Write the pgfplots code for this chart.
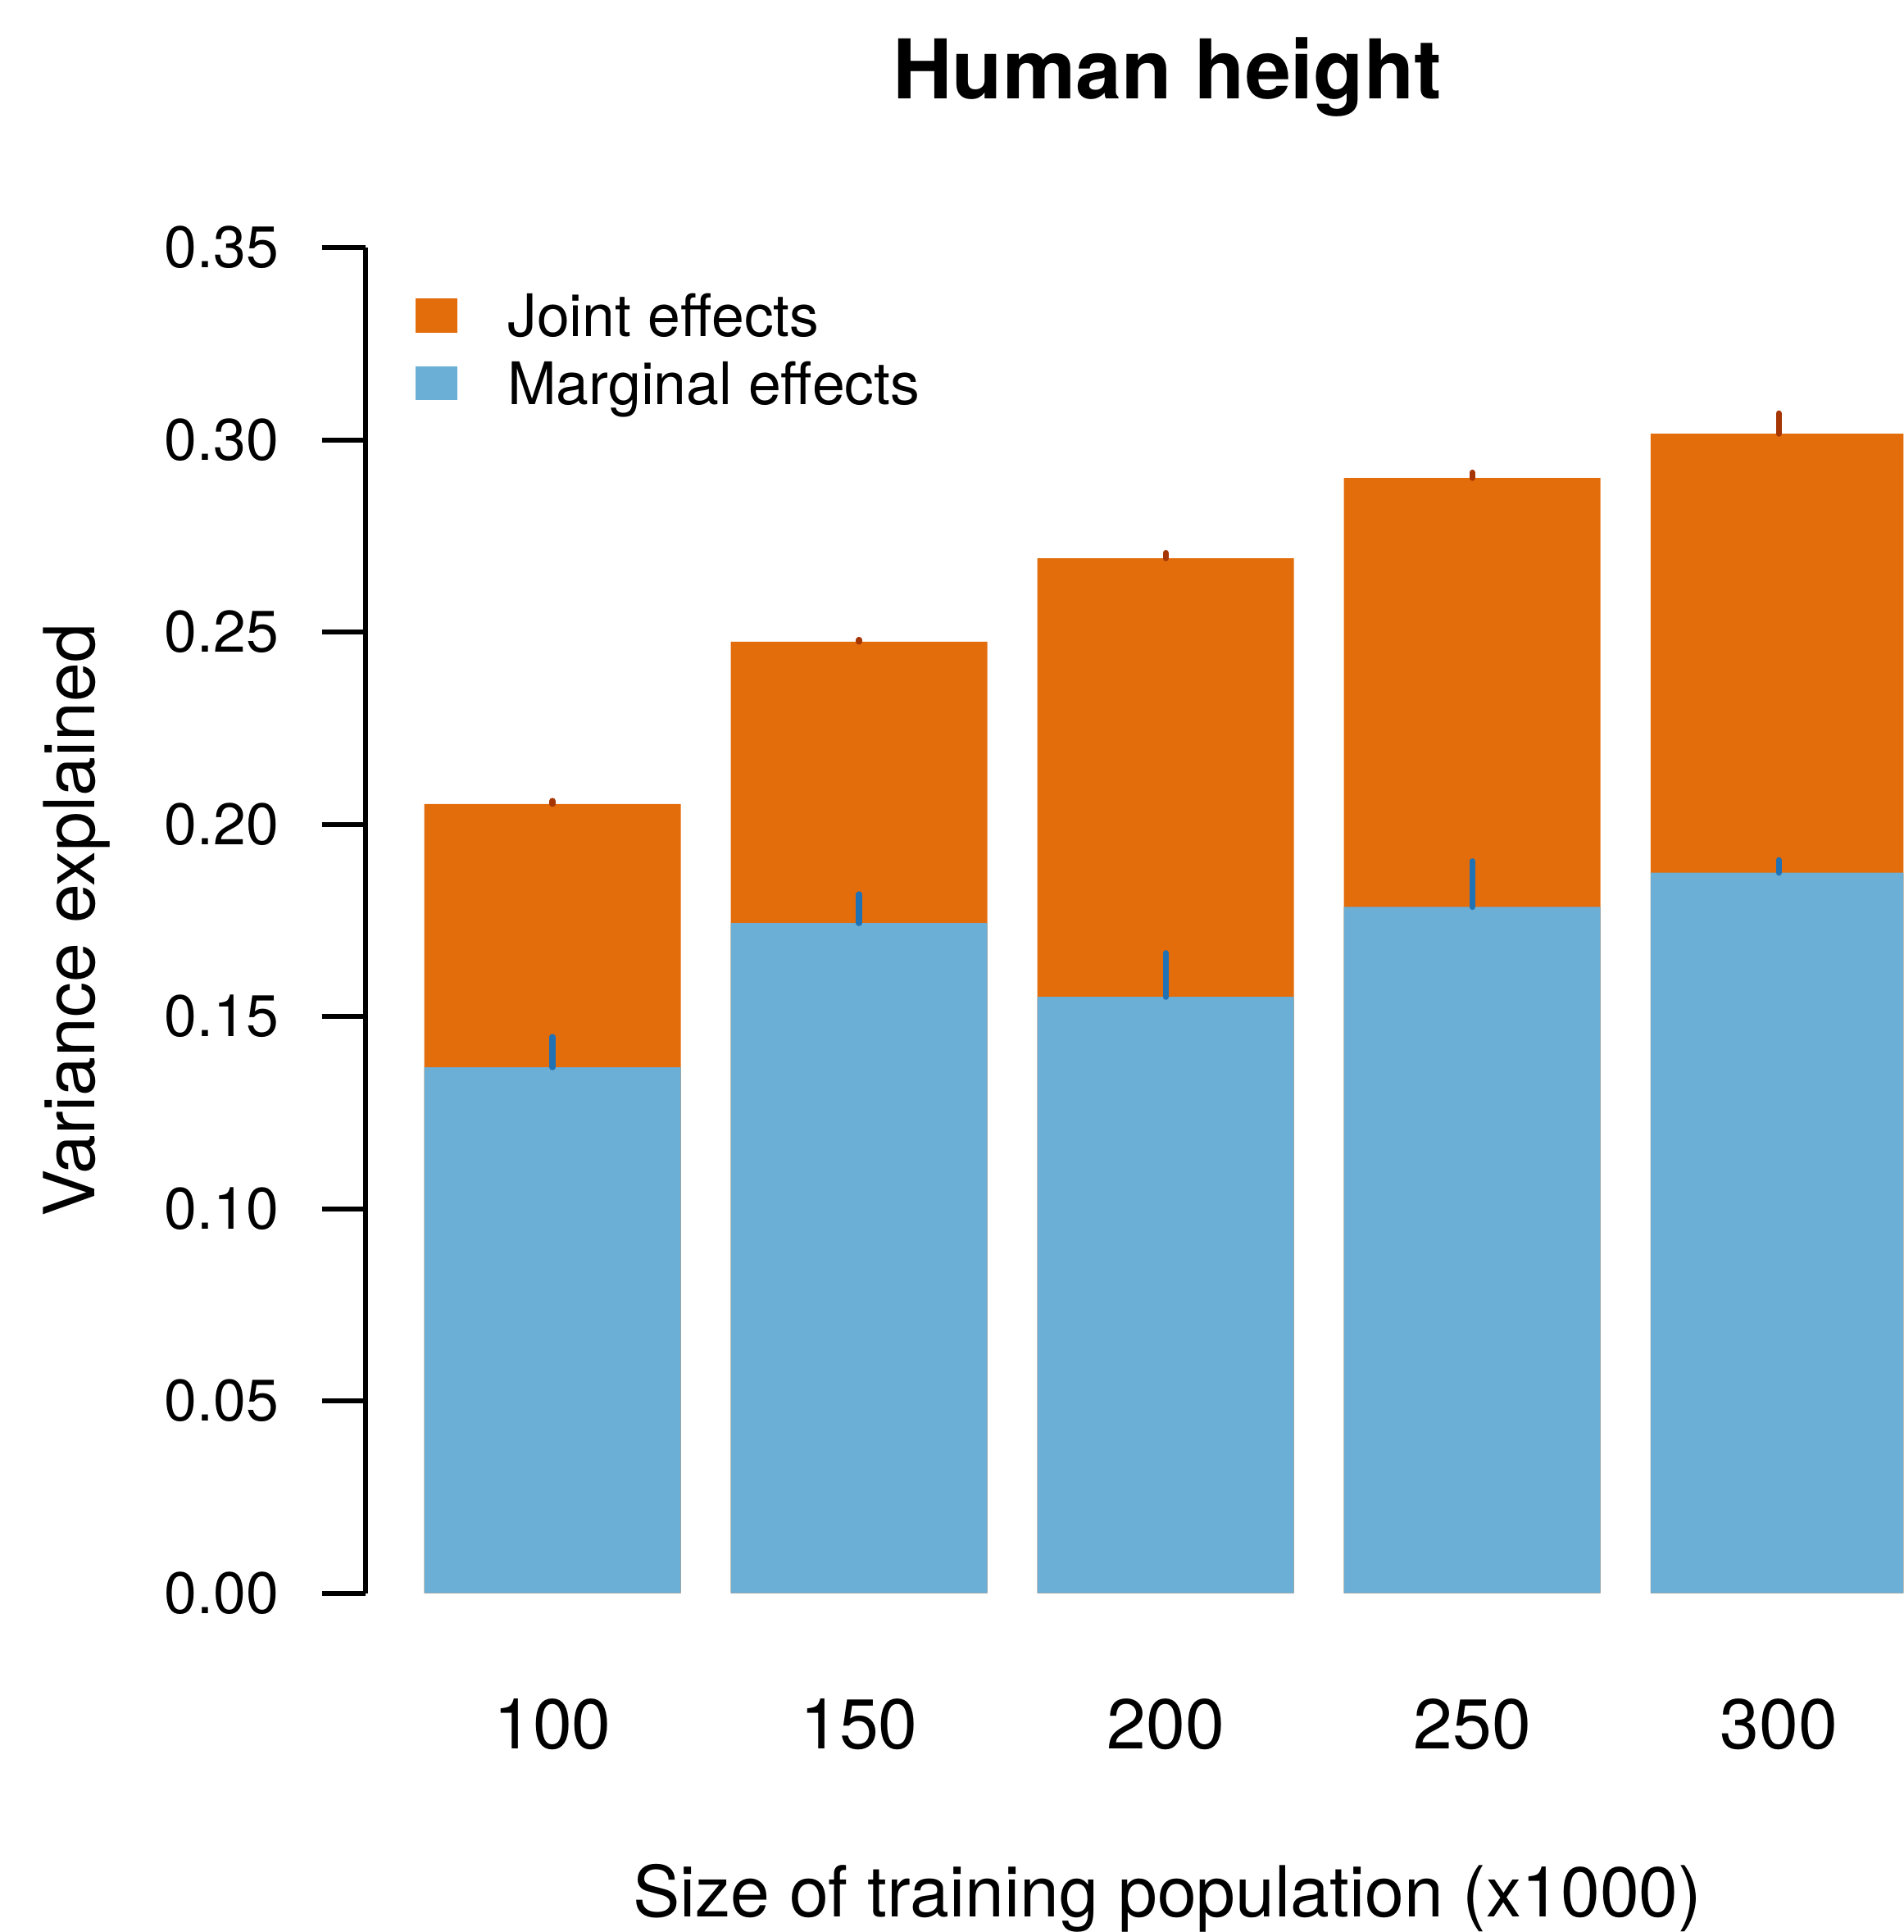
\documentclass[border=0pt]{standalone}
\usepackage{fontspec}
\setmainfont{TeX Gyre Heros}
\usepackage{pgfplots}
\pgfplotsset{compat=1.18}
\definecolor{orangebar}{HTML}{E36C0B}
\definecolor{bluebar}{HTML}{6BAED6}
\definecolor{errblue}{HTML}{2171B5}
\definecolor{errorange}{HTML}{A63603}
\newcommand{\fs}[1]{\fontsize{#1}{#1}\selectfont}
\pgfplotsset{sqlegend/.style={legend image code/.code={\fill[##1,/tikz/.cd] (0pt,-3.46pt) rectangle (8.43pt,3.46pt);}}}
\begin{document}
\begin{tikzpicture}
\begin{axis}[
  name=ax,
  scale only axis, width=312pt, height=273pt,
  xmin=-0.6084, xmax=4.4067, ymin=0, ymax=0.35,
  axis y line*=left, axis x line*=bottom,
  x axis line style={draw=none},
  y axis line style={line width=1pt, black},
  xtick={0,1,2,3,4}, xticklabels={100,150,200,250,300},
  xtick style={draw=none},
  ytick={0,0.05,0.1,0.15,0.2,0.25,0.3,0.35},
  yticklabels={0.00,0.05,0.10,0.15,0.20,0.25,0.30,0.35},
  /pgf/number format/assume math mode=true,
  tick align=outside, major tick length=8.9pt,
  ytick style={line width=1pt, black},
  yticklabel style={font=\fs{11.9}, anchor=east, inner sep=0pt, xshift=-8.6pt},
  xticklabel style={font=\fs{14.3}, anchor=north, inner sep=0pt, yshift=-12.3pt},
  xlabel={Size of training population (x1000)},
  xlabel style={at={(axis description cs:0.5212,-0.24084)}, anchor=base, inner sep=0pt, font=\fs{14.3}},
  ylabel={Variance explained},
  ylabel style={at={(axis description cs:-0.21042,0.5)}, anchor=north, inner sep=0pt, font=\fs{14.3}},
  title={Human height},
  title style={at={(axis description cs:0.5212,1.10733)}, anchor=base, yshift=-5.15pt, inner sep=0pt, font=\bfseries\fs{16.7}},
  legend style={at={(axis description cs:0,1)}, anchor=north west, xshift=10.07pt, yshift=-9.5pt,
    draw=none, fill=none, inner sep=0pt, outer sep=0pt, row sep=5.28pt, column sep=10.25pt,
    font=\fs{11.9}, nodes={inner sep=0pt, anchor=west, text height=8.5pt, text depth=0pt}},
  legend cell align=left,
]
\addplot[ybar, bar width=52.05pt, bar shift=0pt, fill=orangebar, draw=none, sqlegend]
  coordinates {(0,0.2053) (1,0.2475) (2,0.2692) (3,0.2901) (4,0.3016)};
\addlegendentry{Joint effects}
\addplot[ybar, bar width=52.05pt, bar shift=0pt, fill=bluebar, draw=none, sqlegend]
  coordinates {(0,0.1368) (1,0.1743) (2,0.1551) (3,0.1785) (4,0.1874)};
\addlegendentry{Marginal effects}
\addplot[forget plot, draw=none, no markers,
  error bars/.cd, y dir=plus, y explicit, error mark=none,
  error bar style={draw=errblue, line width=1.2pt, line cap=round}]
  coordinates {(0,0.1368) +- (0,0.0079) (1,0.1743) +- (0,0.0075) (2,0.1551) +- (0,0.0114) (3,0.1785) +- (0,0.0119) (4,0.1874) +- (0,0.0033)};
\addplot[forget plot, draw=none, no markers,
  error bars/.cd, y dir=plus, y explicit, error mark=none,
  error bar style={draw=errorange, line width=1.2pt, line cap=round}]
  coordinates {(0,0.2053) +- (0,0.0008) (1,0.2475) +- (0,0.0005) (2,0.2692) +- (0,0.0014) (3,0.2901) +- (0,0.0014) (4,0.3016) +- (0,0.0053)};
\end{axis}
\pgfresetboundingbox
\path[use as bounding box] ([xshift=-74.25pt,yshift=-68.75pt]ax.south west) rectangle ([yshift=50.25pt]ax.north east);
\end{tikzpicture}
\end{document}
